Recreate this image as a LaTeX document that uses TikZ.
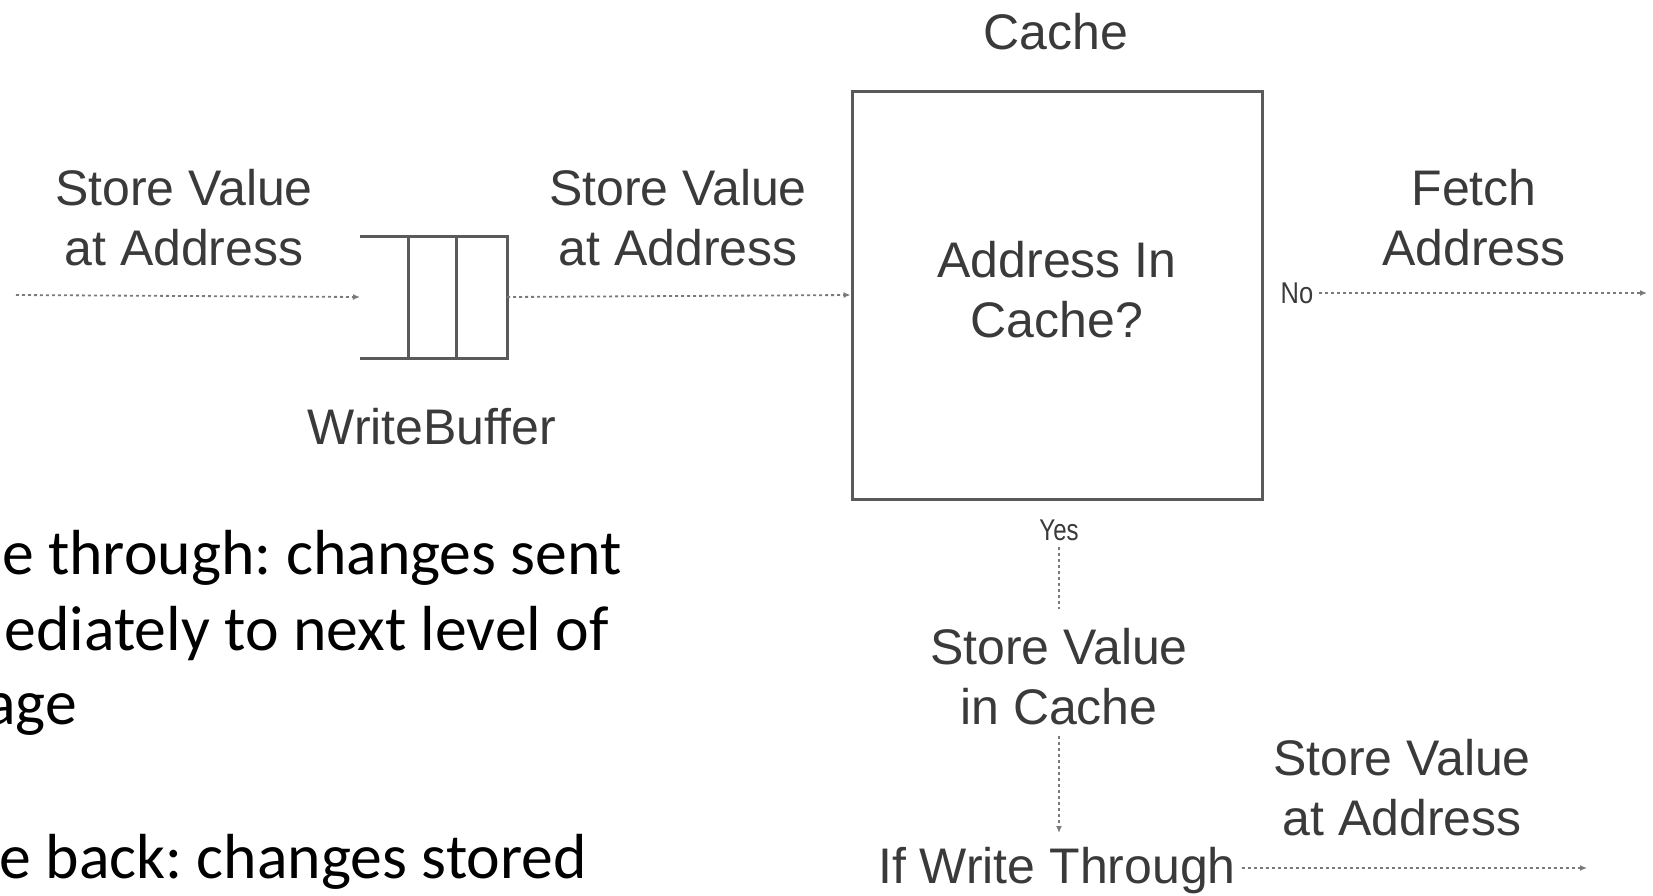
\documentclass[tikz,border=0pt]{standalone}
\usepackage{fontspec}
\setmainfont{Liberation Sans}
\newfontfamily\slidefont{Carlito}
\usetikzlibrary{arrows.meta}
\definecolor{ink}{HTML}{3A3A3A}
\definecolor{edge}{HTML}{5A5A5A}
\definecolor{dots}{HTML}{7A7A7A}
\frenchspacing
\tikzset{
  lbl/.style={font=\fontsize{50}{60}\selectfont, text=ink, align=center, inner sep=0pt},
  tiny/.style={font=\fontsize{30}{32}\selectfont, text=ink, inner sep=0pt},
  flow/.style={draw=dots, line width=1.8pt, dash pattern=on 3pt off 3pt, -{Latex[length=7pt,width=6pt]}},
  flownotip/.style={draw=dots, line width=1.8pt, dash pattern=on 3pt off 3pt},
  cachebox/.style={draw=edge, line width=3pt, minimum width=410pt, minimum height=408pt, inner sep=0pt},
  bufline/.style={draw=edge, line width=3pt},
  slide/.style={font=\slidefont\fontsize{63.7}{76}\selectfont, text=black, inner sep=0pt, anchor=base east},
}
\begin{document}
\begin{tikzpicture}[x=1pt,y=-1pt]
\clip (0,0) rectangle (1653,895);
\fill[white] (0,0) rectangle (1653,895);

% labels
\node[lbl] (cachettl) at (1056,32) {Cache};
\node[lbl] (inlbl) at (184,218) {Store Value\\at Address};
\node[lbl] (midlbl) at (678,218) {Store Value\\at Address};
\node[lbl] (fetchlbl) at (1474,218) {Fetch\\Address};
\node[lbl] (wblbl) at (432,427) {WriteBuffer};

% write buffer
\node[minimum width=147pt, minimum height=122pt, inner sep=0pt, outer sep=0pt] (wb) at (433.5,297) {};
\draw[bufline] (wb.north west) -- (wb.north east) -- (wb.south east) -- (wb.south west);
\draw[bufline] ([xshift=-99pt]wb.north east) -- ([xshift=-99pt]wb.south east);
\draw[bufline] ([xshift=-51pt]wb.north east) -- ([xshift=-51pt]wb.south east);

% cache box
\node[cachebox, draw=edge] (cache) at (1057,295) {};
\node[lbl] (q) at (1057,290) {Address In\\Cache?};

% small labels
\node[tiny, xscale=0.85] (no) at (1297,293) {No};
\node[tiny, xscale=0.8] (yes) at (1059,530) {Yes};

\node[lbl] (sic) at (1059,677) {Store Value\\in Cache};
\node[lbl] (iwt) at (1057,871) {If Write Through};
\node[lbl] (outlbl) at (1402,788) {Store Value\\at Address};

% coordinates for free ends
\coordinate (src) at (16,295);
\coordinate (fetchend) at (1647,293);
\coordinate (wtend) at (1587,868);

% connectors
\draw[flow] (src) -- (wb.west);
\draw[flow] (wb.east) -- (cache.west);
\draw[flow] ([xshift=6pt]no.east) -- (fetchend);
\draw[flownotip] (yes.south) ++(0,6) coordinate (ys) -- (ys |- 0,609) coordinate (ye);
\draw[flow] (sic.south) ++(0,10) coordinate (ss) -- (ss |- 0,833) coordinate (se);
\draw[flow] ([xshift=6pt]iwt.east |- wtend) -- (wtend);

% slide text, cut off at the left edge
\node[slide] (t1) at (622,574) {e through: changes sent};
\node[slide] (t2) at (609,650) {mediately to next level of};
\node[slide] (t3) at (77,724) {age};
\node[slide] (t4) at (587,878) {e back: changes stored};
\end{tikzpicture}
\end{document}
